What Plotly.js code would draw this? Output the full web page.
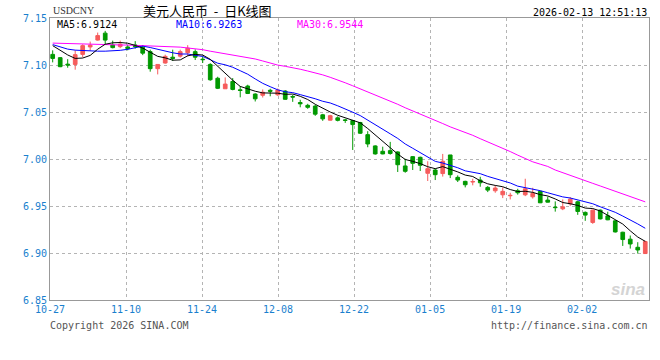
<!DOCTYPE html>
<html><head><meta charset="utf-8">
<script src="https://cdn.plot.ly/plotly-3.0.1.min.js"></script>
<style>html,body{margin:0;padding:0;background:#fff}#chart{width:660px;height:360px}</style>
</head><body><div id="chart"></div>
<script>
const dates = ['10-27','10-28','10-29','10-30','10-31','11-03','11-04','11-05','11-06','11-07',
'11-10','11-11','11-12','11-13','11-14','11-17','11-18','11-19','11-20','11-21',
'11-24','11-25','11-26','11-27','11-28','12-01','12-02','12-03','12-04','12-05',
'12-08','12-09','12-10','12-11','12-12','12-15','12-16','12-17','12-18','12-19',
'12-22','12-23','12-24','12-25','12-26','12-29','12-30','12-31','01-01','01-02',
'01-05','01-06','01-07','01-08','01-09','01-12','01-13','01-14','01-15','01-16',
'01-19','01-20','01-21','01-22','01-23','01-26','01-27','01-28','01-29','01-30',
'02-02','02-03','02-04','02-05','02-06','02-09','02-10','02-11','02-12','02-13'];

const openP = [7.1113,7.1078,7.1009,7.1006,7.1113,7.1192,7.1265,7.1339,7.1213,7.1195,
7.1192,7.1213,7.1188,7.1142,7.0961,7.1021,7.1083,7.1094,7.1131,7.1142,
7.1062,7.1006,7.0859,7.0747,7.0825,7.0736,7.0776,7.0691,7.0678,7.0731,
7.0683,7.0723,7.0665,7.0601,7.0571,7.0563,7.0470,7.0413,7.0438,7.0416,
7.0409,7.0388,7.0259,7.0139,7.0082,7.0089,7.0075,6.9926,7.0025,7.0018,
6.9848,6.9883,6.9845,7.0043,6.9805,6.9762,6.9755,6.9776,6.9698,6.9662,
6.9619,6.9609,6.9662,6.9619,6.9598,6.9656,6.9563,6.9488,6.9470,6.9523,
6.9545,6.9432,6.9325,6.9456,6.9395,6.9342,6.9221,6.9147,6.9061,6.8994];

const highP = [7.1156,7.1085,7.1062,7.1156,7.1220,7.1249,7.1345,7.1363,7.1259,7.1259,
7.1217,7.1254,7.1211,7.1163,7.1006,7.1110,7.1163,7.1163,7.1211,7.1166,
7.1085,7.1019,7.0875,7.0868,7.0861,7.0776,7.0790,7.0699,7.0740,7.0747,
7.0750,7.0733,7.0683,7.0630,7.0587,7.0576,7.0480,7.0470,7.0454,7.0427,
7.0416,7.0395,7.0296,7.0146,7.0131,7.0182,7.0082,7.0003,7.0031,7.0025,
6.9976,6.9897,7.0054,7.0043,6.9826,6.9769,6.9790,6.9811,6.9712,6.9720,
6.9698,6.9641,6.9683,6.9790,6.9694,6.9662,6.9600,6.9549,6.9570,6.9595,
6.9556,6.9442,6.9463,6.9463,6.9439,6.9349,6.9226,6.9186,6.9115,6.9131];

const lowP = [7.1028,7.0977,7.0971,7.0950,7.1083,7.1153,7.1259,7.1222,7.1177,7.1179,
7.1156,7.1174,7.1105,7.0929,7.0900,7.1014,7.1043,7.1078,7.1092,7.1053,
7.1021,7.0832,7.0744,7.0747,7.0731,7.0656,7.0691,7.0612,7.0654,7.0667,
7.0672,7.0630,7.0608,7.0550,7.0534,7.0459,7.0406,7.0409,7.0400,7.0384,
7.0096,7.0267,7.0125,7.0046,7.0050,7.0046,6.9862,6.9854,6.9883,6.9872,
6.9766,6.9776,6.9813,6.9797,6.9755,6.9698,6.9720,6.9705,6.9648,6.9641,
6.9584,6.9570,6.9621,6.9605,6.9579,6.9531,6.9538,6.9440,6.9456,6.9502,
6.9406,6.9342,6.9310,6.9357,6.9349,6.9218,6.9075,6.9047,6.8994,6.8992];

const closeP = [7.1070,7.0982,7.1000,7.1110,7.1206,7.1211,7.1313,7.1265,7.1185,7.1222,
7.1174,7.1195,7.1126,7.0961,7.1006,7.1092,7.1070,7.1142,7.1179,7.1083,
7.1057,7.0843,7.0752,7.0797,7.0740,7.0729,7.0697,7.0640,7.0710,7.0720,
7.0733,7.0635,7.0659,7.0587,7.0550,7.0477,7.0427,7.0461,7.0411,7.0411,
7.0366,7.0274,7.0160,7.0054,7.0054,7.0059,6.9939,6.9869,6.9954,6.9933,
6.9897,6.9833,6.9976,6.9833,6.9776,6.9726,6.9760,6.9747,6.9669,6.9691,
6.9656,6.9613,6.9641,6.9683,6.9634,6.9534,6.9541,6.9483,6.9491,6.9573,
6.9442,6.9403,6.9456,6.9363,6.9353,6.9224,6.9143,6.9096,6.9032,6.9122];

const ma5 = [7.1206,7.1156,7.1107,7.1070,7.1074,7.1102,7.1168,7.1221,7.1236,7.1239,
7.1232,7.1208,7.1180,7.1136,7.1092,7.1076,7.1051,7.1054,7.1098,7.1113,
7.1106,7.1061,7.0983,7.0906,7.0838,7.0772,7.0743,7.0721,7.0703,7.0699,
7.0700,7.0688,7.0691,7.0667,7.0633,7.0582,7.0540,7.0500,7.0465,7.0437,
7.0415,7.0385,7.0324,7.0253,7.0182,7.0120,7.0053,6.9995,6.9975,6.9951,
6.9918,6.9897,6.9919,6.9894,6.9863,6.9829,6.9814,6.9768,6.9736,6.9719,
6.9705,6.9675,6.9654,6.9657,6.9645,6.9621,6.9607,6.9575,6.9537,6.9524,
6.9506,6.9478,6.9473,6.9447,6.9403,6.9360,6.9308,6.9236,6.9170,6.9124];

const ma10 = [7.1217,7.1190,7.1169,7.1158,7.1153,7.1149,7.1147,7.1147,7.1149,7.1156,
7.1167,7.1188,7.1201,7.1186,7.1166,7.1154,7.1130,7.1117,7.1117,7.1103,
7.1091,7.1056,7.1019,7.1002,7.0976,7.0939,7.0902,7.0852,7.0805,7.0769,
7.0736,7.0715,7.0706,7.0685,7.0666,7.0641,7.0614,7.0596,7.0566,7.0535,
7.0498,7.0462,7.0412,7.0359,7.0310,7.0268,7.0219,7.0160,7.0114,7.0066,
7.0019,6.9975,6.9957,6.9935,6.9907,6.9874,6.9856,6.9844,6.9815,6.9791,
6.9767,6.9745,6.9711,6.9696,6.9682,6.9663,6.9641,6.9615,6.9597,6.9585,
6.9564,6.9543,6.9524,6.9492,6.9464,6.9433,6.9393,6.9354,6.9309,6.9263];

const ma30 = [7.1233,7.1230,7.1228,7.1226,7.1224,7.1222,7.1220,7.1218,7.1216,7.1213,
7.1212,7.1210,7.1208,7.1206,7.1204,7.1202,7.1198,7.1190,7.1181,7.1174,
7.1163,7.1147,7.1133,7.1122,7.1110,7.1096,7.1080,7.1064,7.1043,7.1020,
7.0999,7.0986,7.0974,7.0955,7.0936,7.0919,7.0895,7.0869,7.0843,7.0811,
7.0779,7.0747,7.0714,7.0680,7.0647,7.0615,7.0582,7.0545,7.0513,7.0481,
7.0449,7.0413,7.0377,7.0342,7.0314,7.0285,7.0252,7.0216,7.0182,7.0150,
7.0118,7.0079,7.0041,7.0004,6.9970,6.9945,6.9921,6.9883,6.9853,6.9823,
6.9795,6.9769,6.9741,6.9713,6.9686,6.9659,6.9631,6.9605,6.9577,6.9544];

const tickLabels = ['10-27','11-10','11-24','12-08','12-22','01-05','01-19','02-02'];
const yTicks = [6.85,6.90,6.95,7.00,7.05,7.10,7.15];
const symbol = 'USDCNY';
const chartTitle = '美元人民币\u00a0\u00a0-\u00a0\u00a0日K线图';
const stamp = '2026-02-13 12:51:13';
const maLabels = ['MA5:6.9124','MA10:6.9263','MA30:6.9544'];
const copyrightText = 'Copyright 2026 SINA.COM';
const siteText = 'http://finance.sina.com.cn';

const xIdx = dates.map((d, i) => i);
const tickPos = tickLabels.map(l => dates.indexOf(l) * 1.0135 - 0.36);

const W = 660, H = 360, M = {l:50, r:11, t:18, b:60};
const pw = W - M.l - M.r, ph = H - M.t - M.b;
const px = x => (x - M.l) / pw;
const py = y => (H - M.b - y) / ph;

const mono = 'DejaVu Sans Mono';
const blueLbl = '#1a7fce';

const traces = [
  {type:'candlestick', x:xIdx, open:openP, high:highP, low:lowP, close:closeP,
   increasing:{line:{color:'#f65c5c', width:1}, fillcolor:'#f65c5c'},
   decreasing:{line:{color:'#009900', width:1}, fillcolor:'#009900'},
   whiskerwidth:0, hoverinfo:'skip'},
  {type:'scatter', mode:'lines', x:xIdx, y:ma30, line:{color:'#ff00ff', width:1}, hoverinfo:'skip'},
  {type:'scatter', mode:'lines', x:xIdx, y:ma10, line:{color:'#0000ff', width:1}, hoverinfo:'skip'},
  {type:'scatter', mode:'lines', x:xIdx, y:ma5, line:{color:'#000000', width:1}, hoverinfo:'skip'}
];

const ann = (text, x, y, xanchor, font) => ({text, xref:'paper', yref:'paper', x:px(x), y:py(y),
  xanchor, yanchor:'middle', showarrow:false, font});

const layout = {
  width:W, height:H, margin:M, paper_bgcolor:'#ffffff', plot_bgcolor:'#ffffff', showlegend:false,
  xaxis:{type:'linear', range:[-0.36, 79.5], tickmode:'array', tickvals:tickPos, ticktext:tickLabels,
    showgrid:true, gridcolor:'#b4b4b4', griddash:'dot', gridwidth:1, zeroline:false,
    showline:true, mirror:true, linecolor:'#999999', linewidth:1, ticks:'',
    tickfont:{family:mono, size:10, color:blueLbl}, rangeslider:{visible:false}, fixedrange:true},
  yaxis:{range:[6.85, 7.15], tickmode:'array', tickvals:yTicks, ticktext:yTicks.map(v => v.toFixed(2)),
    showgrid:true, gridcolor:'#b4b4b4', griddash:'dot', gridwidth:1, zeroline:false,
    showline:true, mirror:true, linecolor:'#999999', linewidth:1, ticks:'',
    tickfont:{family:mono, size:10, color:blueLbl}, fixedrange:true},
  annotations:[
    ann(symbol, 51, 11, 'left', {family:'Liberation Serif', size:10, color:'#333'}),
    ann(chartTitle, 207, 11, 'center', {family:'Noto Sans CJK SC', size:13, color:'#000'}),
    ann(stamp, 649, 12, 'right', {family:mono, size:10, color:'#000'}),
    ann(maLabels[0], 55, 24, 'left', {family:mono, size:10, color:'#000000'}),
    ann(maLabels[1], 174, 24, 'left', {family:mono, size:10, color:'#0000ff'}),
    ann(maLabels[2], 295, 24, 'left', {family:mono, size:10, color:'#ff00ff'}),
    ann(copyrightText, 48, 325, 'left', {family:mono, size:10, color:'#555'}),
    ann(siteText, 650, 325, 'right', {family:mono, size:10, color:'#555'}),
    ann('<b><i>sina</i></b>', 628, 289, 'center', {family:'Liberation Sans', size:17, color:'#d4d4d4'})
  ]
};

Plotly.newPlot('chart', traces, layout, {staticPlot:true, displayModeBar:false});
</script></body></html>
